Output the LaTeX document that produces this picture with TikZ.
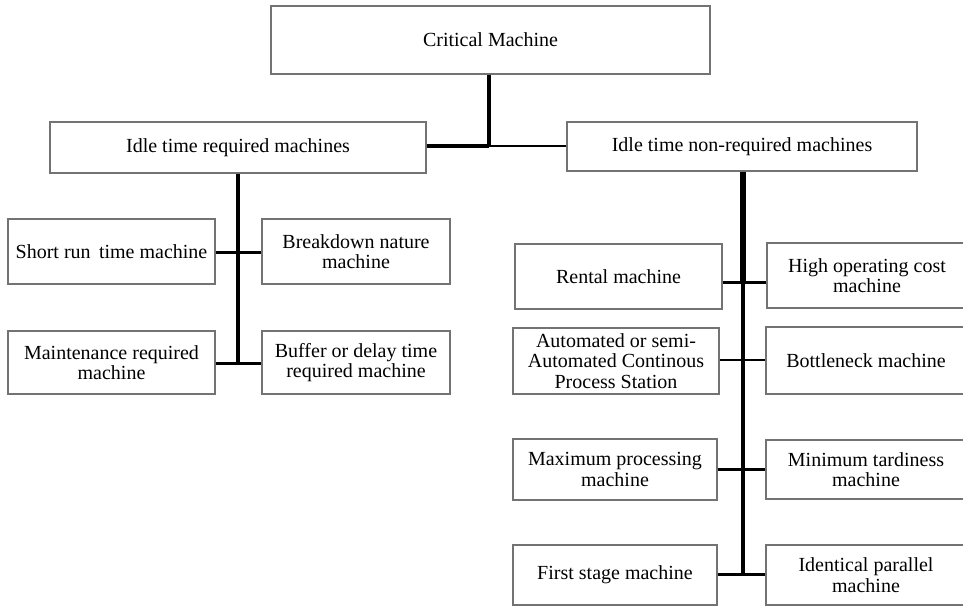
\documentclass[tikz,border=0pt]{standalone}
\usepackage{fontspec}
\setmainfont{Liberation Serif}
\usetikzlibrary{positioning}

\tikzset{
  mbox/.style={draw=black!55,line width=1.2pt,align=center,inner sep=1pt,
    font=\fontsize{20}{20.5}\selectfont,anchor=center},
  link/.style={line width=3pt,black},
  trunk/.style={line width=4pt,black}
}

\begin{document}
\begin{tikzpicture}[x=1pt,y=-1pt]
        \useasboundingbox(0,0)rectangle(963,608);
        \clip(0,0)rectangle(963,608);
        % top level
        \node[mbox,minimum width=439,minimum height=68](crit)at(490.5,40){Critical Machine};
        \node[mbox,minimum width=376,minimum height=51](req)at(238,147.5){Idle time required machines};
        \node[mbox,minimum width=350,minimum height=49](nonreq)at(742,146.5){Idle time non-required machines};
        \coordinate(top)at(489,146);
        \draw[trunk](crit.south-|top)--(top);
        \draw[trunk](req.east|-top)--(top);
        \draw[line width=2pt](top)--(nonreq.west|-top);

        % idle time required
        \node[mbox,minimum width=207,minimum height=65](short)at(111.5,251.5){Short run\, time machine};
        \node[mbox,minimum width=188,minimum height=65](brk)at(356,251.5){Breakdown nature\\machine};
        \node[mbox,minimum width=207,minimum height=63](maint)at(111.5,362.5){Maintenance required\\machine};
        \node[mbox,minimum width=188,minimum height=63](buf)at(356,362.5){Buffer or delay time\\required machine};
        \coordinate(l1)at(238,252);
        \coordinate(l2)at(238,363);
        \draw[trunk](req.south)--(l2);
        \draw[link](short.east|-l1)--(brk.west|-l1);
        \draw[link](maint.east|-l2)--(buf.west|-l2);

        % idle time non-required
        \node[mbox,minimum width=207,minimum height=65](rent)at(618.5,276.5){Rental machine};
        \node[mbox,minimum width=200,minimum height=65](cost)at(867,275.5){High operating cost\\machine};
        \node[mbox,minimum width=206,minimum height=66](auto)at(616,361){Automated or semi-\\Automated Continous\\Process Station};
        \node[mbox,minimum width=200,minimum height=67](bott)at(866,360.5){Bottleneck machine};
        \node[mbox,minimum width=204,minimum height=61](maxp)at(615,469.5){Maximum processing\\machine};
        \node[mbox,minimum width=200,minimum height=59](mint)at(866,469.5){Minimum tardiness\\machine};
        \node[mbox,minimum width=204,minimum height=60](first)at(615,575){First stage machine};
        \node[mbox,minimum width=200,minimum height=60](ident)at(866,575){Identical parallel\\machine};
        \coordinate(r1)at(743,282);
        \coordinate(r2)at(743,360);
        \coordinate(r3)at(743,469);
        \coordinate(r4)at(743,574);
        \draw[line width=6pt](nonreq.south-|r1)--(r1);
        \draw[trunk](r1)--(r4);
        \draw[link](rent.east|-r1)--(cost.west|-r1);
        \draw[line width=2pt](auto.east|-r2)--(bott.west|-r2);
        \draw[link](maxp.east|-r3)--(mint.west|-r3);
        \draw[link](first.east|-r4)--(ident.west|-r4);

    \end{tikzpicture}
\end{document}
